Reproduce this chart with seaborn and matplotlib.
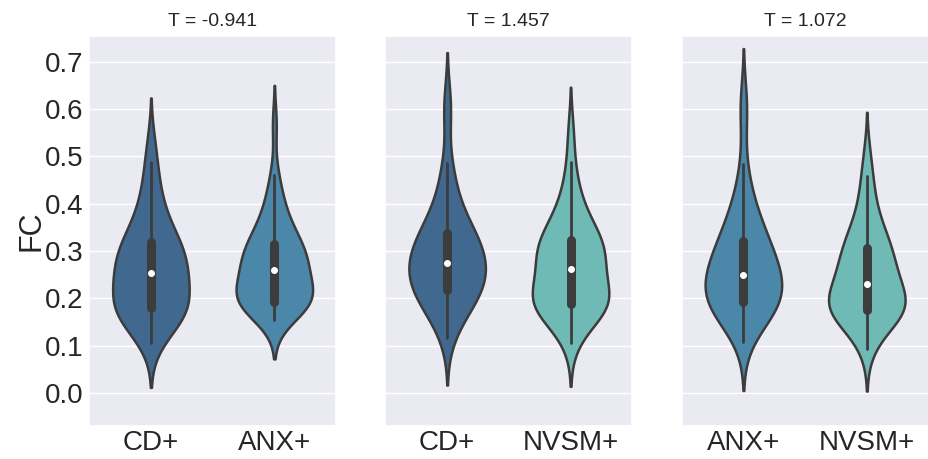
import pandas as pd
import matplotlib
matplotlib.use("Agg")
import matplotlib.pyplot as plt
import seaborn as sns

# FC values per group (45 subjects each), estimated from the violins
cd_1 = [0.105, 0.122, 0.135, 0.145, 0.153, 0.160, 0.166, 0.170, 0.173, 0.175, 0.177,
        0.180, 0.187, 0.194, 0.201, 0.208, 0.215, 0.222, 0.229, 0.235, 0.241, 0.247,
        0.253, 0.259, 0.265, 0.271, 0.277, 0.283, 0.289, 0.295, 0.301, 0.307, 0.313,
        0.319, 0.327, 0.336, 0.346, 0.358, 0.372, 0.388, 0.406, 0.428, 0.456, 0.488, 0.530]
anx_1 = [0.154, 0.166, 0.175, 0.181, 0.185, 0.188, 0.190, 0.191, 0.192, 0.192, 0.193,
         0.193, 0.199, 0.205, 0.211, 0.217, 0.223, 0.229, 0.235, 0.241, 0.247, 0.254,
         0.260, 0.265, 0.270, 0.275, 0.280, 0.285, 0.290, 0.295, 0.300, 0.305, 0.310,
         0.315, 0.322, 0.330, 0.339, 0.349, 0.360, 0.373, 0.388, 0.405, 0.430, 0.461, 0.568]
cd_2 = [0.116, 0.140, 0.158, 0.171, 0.181, 0.189, 0.196, 0.202, 0.207, 0.211, 0.215,
        0.218, 0.225, 0.232, 0.238, 0.244, 0.249, 0.254, 0.259, 0.264, 0.268, 0.272,
        0.275, 0.280, 0.286, 0.292, 0.298, 0.304, 0.310, 0.316, 0.322, 0.327, 0.333,
        0.338, 0.346, 0.355, 0.365, 0.377, 0.391, 0.408, 0.430, 0.458, 0.487, 0.585, 0.620]
nvsm_2 = [0.105, 0.130, 0.148, 0.160, 0.168, 0.174, 0.179, 0.182, 0.184, 0.186, 0.187,
          0.188, 0.193, 0.198, 0.203, 0.208, 0.214, 0.221, 0.229, 0.237, 0.245, 0.254,
          0.262, 0.269, 0.276, 0.282, 0.288, 0.294, 0.299, 0.304, 0.309, 0.314, 0.319,
          0.323, 0.330, 0.338, 0.347, 0.357, 0.369, 0.382, 0.398, 0.418, 0.445, 0.488, 0.555]
anx_3 = [0.108, 0.130, 0.146, 0.158, 0.166, 0.172, 0.176, 0.180, 0.184, 0.187, 0.190,
         0.193, 0.199, 0.205, 0.211, 0.217, 0.223, 0.228, 0.233, 0.238, 0.242, 0.246,
         0.250, 0.256, 0.262, 0.268, 0.275, 0.282, 0.289, 0.296, 0.303, 0.310, 0.316,
         0.322, 0.331, 0.341, 0.352, 0.364, 0.378, 0.394, 0.412, 0.435, 0.484, 0.580, 0.625]
nvsm_3 = [0.092, 0.115, 0.132, 0.145, 0.154, 0.160, 0.165, 0.168, 0.170, 0.172, 0.174,
          0.175, 0.180, 0.185, 0.189, 0.193, 0.197, 0.201, 0.206, 0.211, 0.217, 0.223,
          0.230, 0.237, 0.244, 0.251, 0.258, 0.265, 0.272, 0.279, 0.286, 0.293, 0.300,
          0.306, 0.313, 0.321, 0.330, 0.340, 0.352, 0.366, 0.383, 0.405, 0.435, 0.459, 0.505]

panels = [("CD+", cd_1, "ANX+", anx_1),
          ("CD+", cd_2, "NVSM+", nvsm_2),
          ("ANX+", anx_3, "NVSM+", nvsm_3)]
t_values = [-0.941, 1.457, 1.072]
colors = {"CD+": "#41698f", "ANX+": "#4a87a8", "NVSM+": "#6fbab5"}

sns.set_theme(style="darkgrid")
plt.rcParams["font.family"] = ["Liberation Sans", "DejaVu Sans"]

fig, axes = plt.subplots(1, 3, figsize=(9.29, 4.59), dpi=100, sharey=True)
fig.subplots_adjust(left=0.096, right=0.9995, bottom=0.072, top=0.922, wspace=0.2)

for ax, (g1, v1, g2, v2), t in zip(axes, panels, t_values):
    df = pd.DataFrame({"group": [g1] * len(v1) + [g2] * len(v2),
                       "FC": v1 + v2})
    sns.violinplot(data=df, x="group", y="FC", hue="group", palette=colors,
                   order=[g1, g2], legend=False, saturation=1, width=0.62,
                   linewidth=1.8, linecolor="#3c3c3c", inner="box",
                   inner_kws=dict(box_width=6.5, whis_width=2, marker="o"), ax=ax)
    # smaller white median dots
    for ln in ax.lines:
        if ln.get_marker() == "o":
            ln.set_markersize(4.2)
            ln.set_markeredgewidth(0.8)
    ax.set_title(f"T = {t}", fontsize=14, pad=7)
    ax.set_xlabel("")
    ax.set_ylabel("")
    ax.tick_params(axis="x", labelsize=20, pad=-3)
    ax.tick_params(axis="y", labelsize=20, pad=-2)

axes[0].set_ylim(-0.07, 0.755)
axes[0].set_yticks([0.0, 0.1, 0.2, 0.3, 0.4, 0.5, 0.6, 0.7])
axes[0].set_ylabel("FC", fontsize=22, labelpad=-1)

fig.savefig("out.png", dpi=100)
